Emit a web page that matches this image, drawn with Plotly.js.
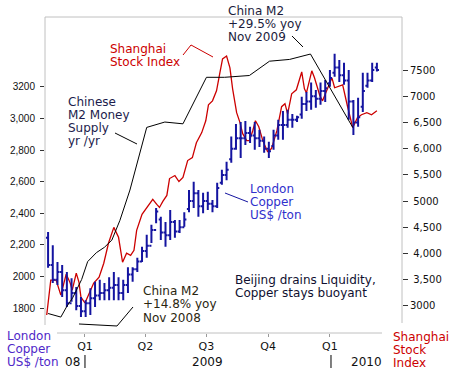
<!DOCTYPE html>
<html>
<head>
<meta charset="utf-8">
<script src="https://cdn.plot.ly/plotly-3.0.1.min.js"></script>
<style>html,body{margin:0;padding:0;background:#fff;}#chart{width:450px;height:373px;}</style>
</head>
<body>
<div id="chart"></div>
<script>
// London copper, weekly bars (US$/ton), right axis
const copperDates = ["2008-11-07","2008-11-14","2008-11-21","2008-11-28","2008-12-05","2008-12-12","2008-12-19","2008-12-26",
"2009-01-02","2009-01-09","2009-01-16","2009-01-23","2009-01-30","2009-02-06","2009-02-13","2009-02-20","2009-02-27",
"2009-03-06","2009-03-13","2009-03-20","2009-03-27","2009-04-03","2009-04-10","2009-04-17","2009-04-24","2009-05-01",
"2009-05-08","2009-05-15","2009-05-22","2009-05-29","2009-06-05","2009-06-12","2009-06-19","2009-06-26","2009-07-03",
"2009-07-10","2009-07-17","2009-07-24","2009-07-31","2009-08-07","2009-08-14","2009-08-21","2009-08-28","2009-09-04",
"2009-09-11","2009-09-18","2009-09-25","2009-10-02","2009-10-09","2009-10-16","2009-10-23","2009-10-30","2009-11-06",
"2009-11-13","2009-11-20","2009-11-27","2009-12-04","2009-12-11","2009-12-18","2009-12-25","2010-01-01","2010-01-08",
"2010-01-15","2010-01-22","2010-01-29","2010-02-05","2010-02-12","2010-02-19","2010-02-26","2010-03-05","2010-03-12"];
const copperHigh = [4410,4160,3840,3780,3650,3530,3360,3170,3110,3340,3460,3500,3440,3550,3650,3550,3500,3740,3740,3920,4130,4360,4550,4870,4700,4600,4830,4640,4640,4790,5210,5370,5210,5160,5180,5020,5350,5600,5750,6230,6470,6510,6530,6420,6510,6360,6230,6130,6360,6550,6720,6740,6660,6630,6990,7080,7260,7120,7260,7310,7500,7810,7690,7640,7500,6930,6970,7450,7450,7640,7640];
const copperLow = [3730,3440,3400,3170,2980,3080,2920,2790,2790,2830,2980,3110,3110,3110,3110,3110,3110,3250,3460,3650,3840,3920,4200,4580,4260,4130,4260,4300,4390,4510,4790,4870,4700,4770,4830,4790,4870,5310,5400,5730,5980,5820,6070,6110,5980,6030,5920,5820,5980,6170,6170,6400,6400,6510,6570,6720,6740,6780,6840,6890,7180,7370,7270,7220,6550,6260,6420,6700,7160,7270,7470];
const copperClose = [3780,3500,3650,3300,3050,3250,3000,2900,3050,3150,3200,3250,3300,3350,3400,3250,3400,3600,3700,3850,4050,4150,4450,4800,4400,4350,4600,4420,4500,4650,5000,5150,4900,5000,4950,4900,5250,5500,5600,6000,6200,6200,6300,6250,6200,6150,6000,5950,6250,6450,6450,6550,6550,6600,6850,6900,7000,6950,7100,7150,7350,7550,7400,7300,6900,6500,6600,7100,7300,7500,7500];
const copperOpen = [4300,3780,3500,3650,3300,3050,3250,3000,2900,3050,3150,3200,3250,3300,3350,3400,3250,3400,3600,3700,3850,4050,4150,4450,4650,4400,4350,4600,4420,4500,4850,5000,5150,4900,5000,4950,4900,5350,5500,5800,6000,6200,6200,6300,6250,6200,6150,6000,6050,6250,6450,6450,6550,6550,6650,6850,6900,7000,6950,7100,7250,7450,7550,7400,7300,6900,6500,6800,7200,7300,7550];

// Shanghai Stock Index, left axis
const shDates = ["2008-11-05","2008-11-11","2008-11-19","2008-11-26","2008-12-04","2008-12-10","2008-12-13","2008-12-19","2008-12-23","2008-12-26",
"2009-01-01","2009-01-07","2009-01-14","2009-01-22","2009-01-29","2009-02-05","2009-02-13","2009-02-20","2009-02-26","2009-03-04",
"2009-03-10","2009-03-15","2009-03-19","2009-03-27","2009-04-03","2009-04-12","2009-04-18","2009-04-22","2009-04-27","2009-05-03",
"2009-05-07","2009-05-15","2009-05-21","2009-05-27","2009-06-03","2009-06-10","2009-06-16","2009-06-24","2009-06-30","2009-07-04",
"2009-07-10","2009-07-16","2009-07-21","2009-07-25","2009-07-31","2009-08-05","2009-08-09","2009-08-15","2009-08-20","2009-08-24",
"2009-08-30","2009-09-03","2009-09-08","2009-09-12","2009-09-17","2009-09-23","2009-09-30","2009-10-06","2009-10-14","2009-10-21",
"2009-10-26","2009-10-30","2009-11-05","2009-11-12","2009-11-20","2009-11-24","2009-11-27","2009-12-05","2009-12-09","2009-12-17",
"2009-12-21","2009-12-27","2010-01-04","2010-01-08","2010-01-16","2010-01-20","2010-01-27","2010-02-04","2010-02-11","2010-02-17",
"2010-02-25","2010-03-04","2010-03-12"];
const shValues = [1756,1977,1977,1882,2015,1958,1914,2021,1964,1869,
1832,1895,1958,1996,2084,2210,2311,2248,2090,2147,
2134,2166,2292,2393,2437,2488,2456,2437,2475,2513,
2620,2639,2601,2627,2734,2753,2847,2911,2986,3087,
3112,3176,3289,3378,3396,3321,3188,3037,2974,2904,
2860,2860,2923,2986,2948,2860,2791,2810,2923,3075,
3094,3030,3157,3182,3295,3188,3163,3302,3258,3144,
3112,3176,3258,3195,3207,3213,3081,2942,3005,3024,
3037,3024,3049];

// China M2 money supply, % yoy (hidden axis)
const m2Dates = ["2008-11-07","2008-11-26","2008-12-05","2008-12-14","2008-12-27","2009-01-05","2009-01-18","2009-01-30","2009-02-10","2009-02-22",
"2009-03-09","2009-04-03","2009-04-30","2009-05-27","2009-07-01","2009-07-28","2009-09-03","2009-10-03","2009-11-02","2009-12-03","2010-02-04"];
const m2Values = [15.0,14.8,15.4,15.9,16.9,17.9,18.4,18.7,19.1,20.2,21.9,25.4,25.7,25.6,28.2,28.2,28.3,29.1,29.2,29.5,25.4];

// Axis ticks
const quarterTicks = ["2009-01-01","2009-04-01","2009-07-01","2009-10-01","2010-01-01"];
const quarterLabels = ["Q1","Q2","Q3","Q4","Q1"];
const leftTickVals = [1800,2000,2200,2400,2600,2800,3000,3200];
const leftTickText = ["1800","2000","2,200","2,400","2,600","2,800","3,000","3200"];
const rightTickVals = [3000,3500,4000,4500,5000,5500,6000,6500,7000,7500];
const rightTickText = ["3000"," 3,500"," 4,000"," 4,500"," 5000"," 5,500"," 6,000"," 6,500","7000","7500"];

const W = 450, H = 373, L = 45, R = 48, T = 17, B = 40;
const pw = W - L - R, ph = H - T - B;
const px = x => (x - L) / pw;
const py = y => (H - B - y) / ph;

const blue = '#1414a0', red = '#cc0000';

const traces = [
  {type:'ohlc', x:copperDates, open:copperOpen, high:copperHigh, low:copperLow, close:copperClose, yaxis:'y2',
   increasing:{line:{color:blue, width:2}}, decreasing:{line:{color:blue, width:2}}, tickwidth:0.45, hoverinfo:'skip'},
  {type:'scatter', mode:'lines', x:shDates, y:shValues, yaxis:'y', line:{color:red, width:1.3}, hoverinfo:'skip'},
  {type:'scatter', mode:'lines', x:m2Dates, y:m2Values, yaxis:'y3', line:{color:'#000', width:1}, hoverinfo:'skip'}
];

const annotations = [];
function block(lines, x, y0, step, color, xanchor, size) {
  lines.forEach((t, i) => {
    annotations.push({text:t, xref:'paper', yref:'paper', x:px(x), y:py(y0 + i*step), xanchor:xanchor||'left',
      yanchor:'middle', showarrow:false, borderpad:0,
      font:{family:'DejaVu Sans', size:size||12, color:color}});
  });
}
block(['Shanghai','Stock Index'], 109, 49, 13, red);
block(['Chinese','M2 Money','Supply','yr /yr'], 67, 102, 13, '#1c1c4c');
block(['China M2','+29.5% yoy','Nov 2009'], 227, 11, 13, '#1c1c3c');
block(['London','Copper','US$ /ton'], 249, 189, 13, '#3030cc');
block(['Beijing drains Liquidity,','Copper stays buoyant'], 234, 280, 13, '#101030');
block(['China M2','+14.8% yoy','Nov 2008'], 142, 290.5, 13.5, '#2a2610');
block(['London','Copper','US$ /ton'], 6, 336, 13, '#5028c8');
block(['Shanghai','Stock','Index'], 392, 337, 13, red);
block(['08'], 81, 362, 13, '#111', 'right');
block(['2009'], 207, 362, 13, '#111', 'center');
block(['2010'], 350, 362, 13, '#111', 'left');

function seg(pts, color) {
  let d = 'M ' + pts.map(p => px(p[0]).toFixed(4) + ' ' + py(p[1]).toFixed(4)).join(' L ');
  return {type:'path', xref:'paper', yref:'paper', path:d, line:{color:color, width:1}};
}
const frame = '#c0c0c0';
const shapes = [
  seg([[45,17],[402,17]], frame),
  seg([[45,17],[45,325]], frame),
  seg([[402,17],[402,323]], frame),
  seg([[57,333],[382,333]], frame),
  seg([[183,55],[191,45],[213,57]], red),
  seg([[115,133],[137,144]], '#000'),
  seg([[292,36],[303,47]], '#000'),
  seg([[225,193],[248,202]], blue),
  seg([[79,324],[117,326],[133,307]], '#000'),
  seg([[85,355],[85,368]], '#000'),
  seg([[331,355],[331,368]], '#000')
];

const layout = {
  width:W, height:H, margin:{l:L, r:R, t:T, b:B, pad:0},
  paper_bgcolor:'#fff', plot_bgcolor:'#fff', showlegend:false,
  xaxis:{type:'date', range:['2008-11-02 10:00','2010-04-18 10:00'], tickvals:quarterTicks, ticktext:quarterLabels,
    ticks:'outside', ticklen:3, tickcolor:'#999', showgrid:false, zeroline:false, showline:false,
    tickfont:{family:'DejaVu Sans', size:11, color:'#111'}, rangeslider:{visible:false}, fixedrange:true},
  yaxis:{range:[1642,3643], tickvals:leftTickVals, ticktext:leftTickText, ticks:'outside', ticklen:4, tickcolor:'#333',
    ticklabelstandoff:3, showgrid:false, zeroline:false, showline:false,
    tickfont:{family:'Liberation Sans', size:10, color:'#111'}, fixedrange:true},
  yaxis2:{overlaying:'y', side:'right', range:[2485,8511], tickvals:rightTickVals, ticktext:rightTickText,
    ticks:'outside', ticklen:5, tickcolor:'#333', showgrid:false, zeroline:false, showline:false,
    tickfont:{family:'DejaVu Sans', size:10, color:'#111'}, fixedrange:true},
  yaxis3:{overlaying:'y', range:[13.91,31.57], visible:false, fixedrange:true},
  annotations:annotations, shapes:shapes
};

Plotly.newPlot('chart', traces, layout, {staticPlot:true, displayModeBar:false});
</script>
</body>
</html>
